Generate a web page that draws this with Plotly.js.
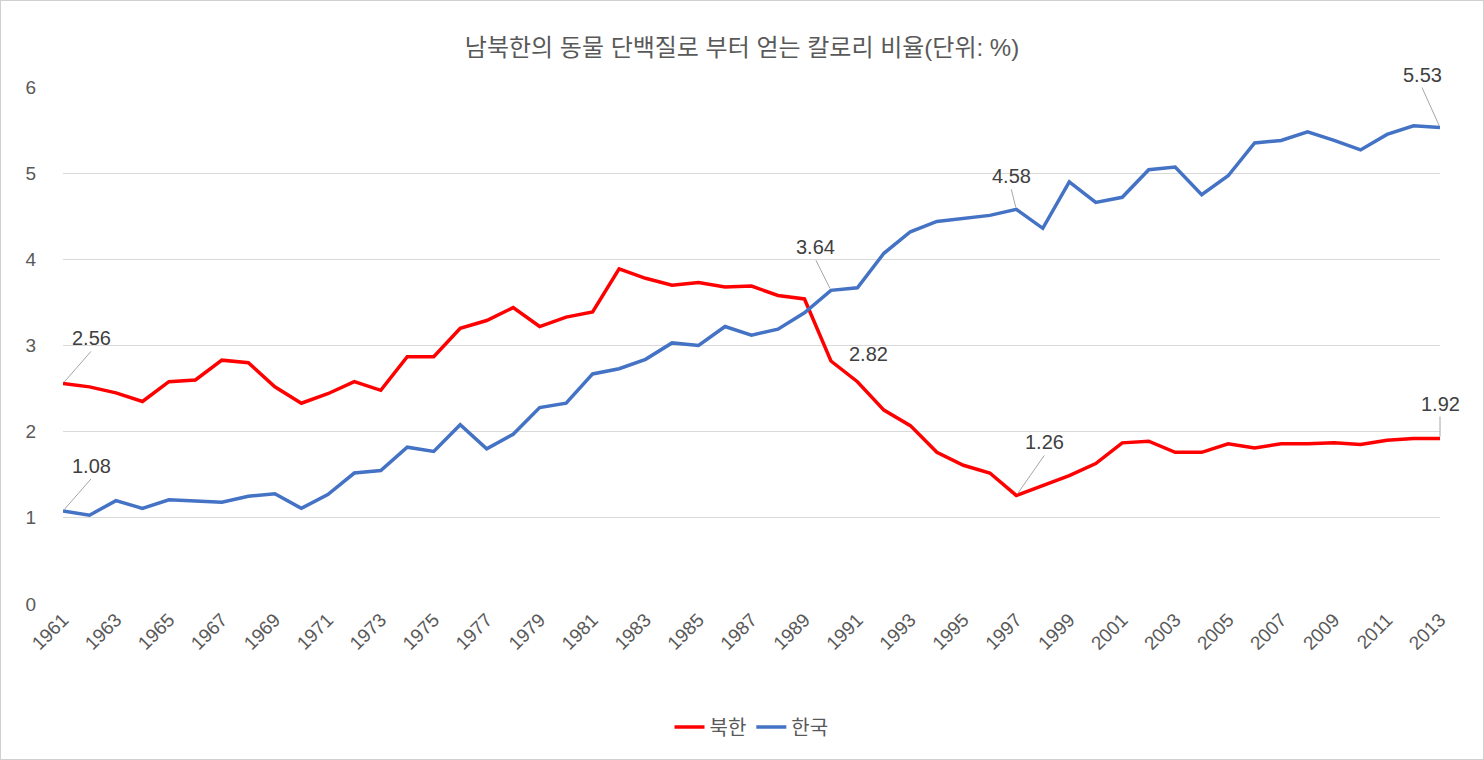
<!DOCTYPE html>
<html><head><meta charset="utf-8">
<script src="https://cdn.plot.ly/plotly-3.0.1.min.js"></script>
<style>body{margin:0}#c{width:1482px;height:758px;border:1px solid #d0d0d0}</style>
</head><body><div id="c"></div>
<script>
var years = [];
for (var y = 1961; y <= 2013; y++) years.push(y);
var north = [2.56,2.52,2.45,2.35,2.58,2.60,2.83,2.80,2.52,2.33,2.44,2.58,2.48,2.87,2.87,3.20,3.29,3.44,3.22,3.33,3.39,3.89,3.78,3.70,3.73,3.68,3.69,3.58,3.54,2.82,2.58,2.25,2.07,1.76,1.61,1.52,1.26,1.37,1.49,1.63,1.87,1.89,1.76,1.76,1.86,1.81,1.86,1.86,1.87,1.85,1.90,1.92,1.92];
var south = [1.08,1.03,1.20,1.11,1.21,1.19,1.18,1.25,1.28,1.11,1.27,1.52,1.55,1.82,1.77,2.08,1.80,1.97,2.28,2.33,2.67,2.73,2.84,3.03,3.00,3.22,3.12,3.19,3.38,3.64,3.67,4.07,4.32,4.44,4.48,4.51,4.58,4.36,4.90,4.66,4.72,5.04,5.07,4.75,4.97,5.35,5.38,5.48,5.38,5.27,5.45,5.55,5.53];
var tickYears = years.filter(function (v) { return (v - 1961) % 2 === 0; });

function lab(x, yv, ax, ay, arrow) {
  return { x: x, y: yv, text: yv.toFixed(2), showarrow: arrow !== false, arrowhead: 0,
    arrowcolor: '#a6a6a6', arrowwidth: 1, ax: ax, ay: ay, standoff: 2,
    font: { size: 20, color: '#404040' }, xanchor: 'center', yanchor: 'bottom' };
}
var anns = [
  lab(1961, 2.56, 28, -32), lab(1961, 1.08, 28, -32),
  lab(1990, 3.64, -15, -30), { x: 1990, y: 2.82, text: '2.82', showarrow: false, xanchor: 'left', yanchor: 'bottom', xshift: 16, yshift: -6, font: { size: 20, color: '#404040' } },
  lab(1997, 1.26, 28, -40), lab(1997, 4.58, -5, -20),
  lab(2013, 5.53, -18, -40), lab(2013, 1.92, 0, -22)
];

Plotly.newPlot('c', [
  { x: years, y: north, name: '북한', type: 'scatter', mode: 'lines', line: { color: '#ff0000', width: 3.5 } },
  { x: years, y: south, name: '한국', type: 'scatter', mode: 'lines', line: { color: '#4472c4', width: 3.5 } }
], {
  width: 1482, height: 758,
  font: { family: 'Liberation Sans, Noto Sans CJK KR, sans-serif', color: '#595959' },
  title: { text: '남북한의 동물 단백질로 부터 얻는 칼로리 비율(단위: %)', x: 0.5, y: 0.95, font: { size: 24, color: '#595959' } },
  margin: { l: 62, r: 43, t: 86, b: 140 },
  xaxis: { range: [1961, 2013], tickvals: tickYears, ticktext: tickYears.map(String), tickangle: -45, automargin: false,
    tickfont: { size: 19, color: '#595959' }, showgrid: false, zeroline: false, showline: false, ticks: '' },
  yaxis: { range: [0, 6], dtick: 1, gridcolor: '#d9d9d9', zeroline: false, automargin: false, ticklabelstandoff: 26,
    tickfont: { size: 19, color: '#595959' }, ticks: '' },
  showlegend: true,
  legend: { orientation: 'h', x: 0.5, xanchor: 'center', y: -0.2, yanchor: 'top', font: { size: 20, color: '#595959' } },
  annotations: anns
}, { displayModeBar: false });
</script></body></html>
